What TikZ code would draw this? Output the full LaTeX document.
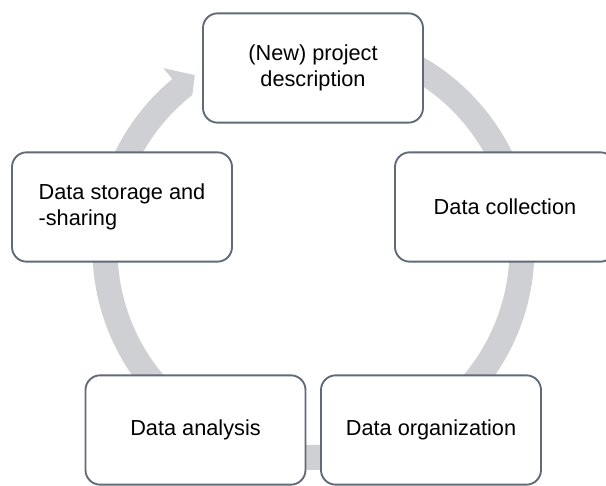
\documentclass[tikz,border=0pt]{standalone}
\usepackage{fontspec}
\setmainfont{Liberation Sans}
\usepackage{tikz}
\definecolor{rim}{RGB}{96,106,120}
\definecolor{ringgray}{RGB}{207,208,212}

\begin{document}
\begin{tikzpicture}[x=0.75pt,y=0.75pt]
    \tikzstyle{box}=[rectangle,rounded corners=11pt,draw=rim,line width=1.4pt,fill=white,minimum width=165pt,minimum height=82pt,inner sep=0pt,font=\fontsize{16.3}{19.5}\selectfont]
    \tikzstyle{ring}=[fill=ringgray,draw=none]

\useasboundingbox (0,0) rectangle (606,485);

% the circular arrow behind the boxes
\begin{scope}[shift={(313.5,236)}]
\fill[ring] (85:221) arc[start angle=85,end angle=-230.3,radius=221]
    -- (129.7:235) -- (124.3:210.5) -- (128.2:196)
    arc[start angle=-231.8,end angle=85,radius=196] -- cycle;
\end{scope}

\node[box] (desc) at (313,417) {\begin{tabular}{@{}c@{}}(New) project\\description\end{tabular}};
\node[box] (coll) at (505,278) {Data collection};
\node[box] (org) at (431,55) {Data organization};
\node[box] (ana) at (195.5,55) {Data analysis};
\node[box] (stor) at (122,278) {\begin{tabular}{@{}l@{}}Data storage and\\-sharing\end{tabular}};
\end{tikzpicture}
\end{document}
